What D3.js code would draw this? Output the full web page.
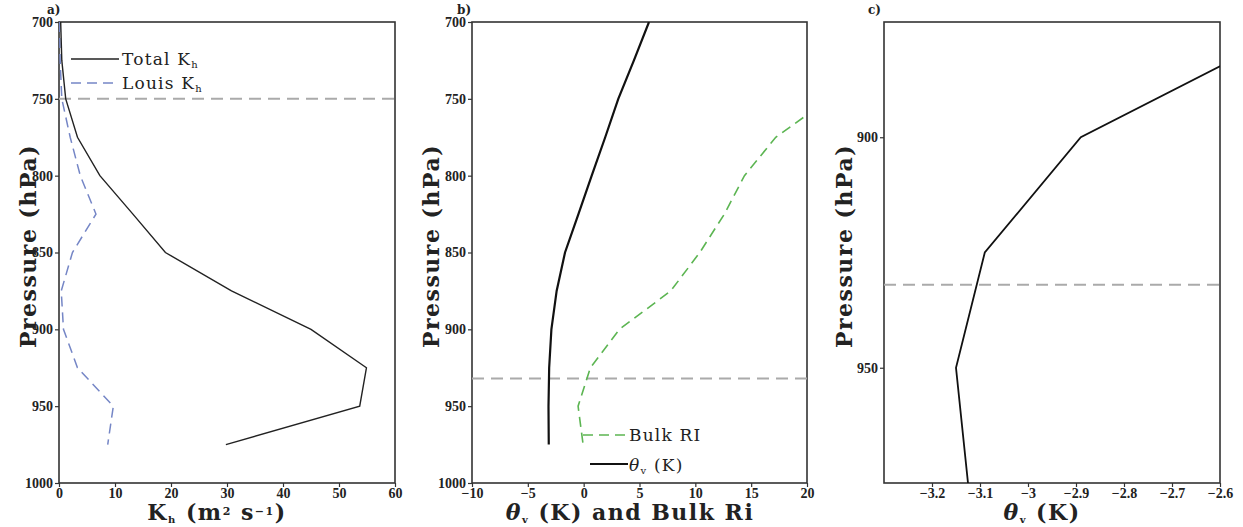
<!DOCTYPE html>
<html>
<head>
<meta charset="utf-8">
<script src="https://cdn.jsdelivr.net/npm/d3@7"></script>
<style>
  body { margin: 0; background: #fff; }
  .tick text { font-family: "Liberation Serif", serif; font-weight: bold; font-size: 14px; fill: #222; }
  .title { font-family: "DejaVu Serif", serif; font-weight: bold; font-size: 22px; fill: #222; letter-spacing: 1.5px; }
  .legend { font-family: "DejaVu Serif", serif; font-size: 17px; fill: #222; letter-spacing: 1.2px; }
  .tag { font-family: "DejaVu Serif", serif; font-weight: bold; font-size: 12px; fill: #222; }
</style>
</head>
<body>
<svg id="chart" width="1243" height="527"></svg>
<script>
// pressure levels (hPa)
const levels = [700, 725, 750, 775, 800, 825, 850, 875, 900, 925, 950, 975];
// panel a
const totalKh = [0.3, 0.5, 1.2, 3.3, 7.3, 13.2, 19.0, 30.8, 45.0, 54.9, 53.7, 29.8];
const louisKh = [0.1, 0.2, 0.5, 2.0, 3.8, 6.6, 2.4, 0.4, 0.8, 3.3, 9.7, 8.7];
// panel b / c
const thetaV = [5.85, 4.5, 3.1, 1.93, 0.72, -0.47, -1.67, -2.42, -2.89, -3.09, -3.15, -3.125];
const bulkRi = [null, null, 22.0, 17.2, 14.4, 12.6, 10.4, 7.8, 3.2, 0.6, -0.5, -0.05];
// boundary layer heights
const pblA = 750;
const pblB = 932;
// ticks
const pTicks = [700, 750, 800, 850, 900, 950, 1000];
const pTicksC = [900, 950];
const khTicks = [0, 10, 20, 30, 40, 50, 60];
const riTicks = [-10, -5, 0, 5, 10, 15, 20];
const thTicksC = [-3.2, -3.1, -3.0, -2.9, -2.8, -2.7, -2.6];

const svg = d3.select('#chart');
const plotTop = 22, plotBottom = 483;

function panel(id, left, right, xDomain, yDomain, xTicks, yTicks, tag, tagX) {
    const x = d3.scaleLinear().domain(xDomain).range([left, right]);
    const y = d3.scaleLinear().domain(yDomain).range([plotTop, plotBottom]);
    const g = svg.append('g');

    svg.append('clipPath').attr('id', 'clip-' + id)
        .append('rect').attr('x', left).attr('y', plotTop)
        .attr('width', right - left).attr('height', plotBottom - plotTop);

    const fmt = d => String(+d.toFixed(1)).replace('-', '\u2212');

    g.append('g').attr('transform', `translate(0,${plotBottom})`)
        .call(d3.axisBottom(x).tickValues(xTicks).tickSize(4).tickPadding(1).tickFormat(fmt))
        .call(a => a.select('.domain').remove());
    g.append('g').attr('transform', `translate(${left},0)`)
        .call(d3.axisLeft(y).tickValues(yTicks).tickSize(4).tickPadding(2).tickFormat(d3.format('d')))
        .call(a => a.select('.domain').remove());
    g.selectAll('.tick line').attr('stroke', '#333').attr('stroke-width', 1.2);

    g.append('rect').attr('x', left).attr('y', plotTop)
        .attr('width', right - left).attr('height', plotBottom - plotTop)
        .attr('fill', 'none').attr('stroke', '#333').attr('stroke-width', 1.6);

    svg.append('text').attr('class', 'tag').attr('x', tagX).attr('y', plotTop - 8).text(tag);

    const plot = g.append('g').attr('clip-path', `url(#clip-${id})`);
    return { x, y, g, plot };
}

function profile(p, values, color, width, dash) {
    const line = d3.line()
        .defined((d, i) => values[i] != null)
        .x((d, i) => p.x(values[i]))
        .y(d => p.y(d));
    p.plot.append('path').datum(levels)
        .attr('d', line).attr('fill', 'none')
        .attr('stroke', color).attr('stroke-width', width)
        .attr('stroke-dasharray', dash || null);
}

function pblLine(p, value) {
    const [x0, x1] = p.x.range();
    p.plot.append('line').attr('x1', x0).attr('x2', x1)
        .attr('y1', p.y(value)).attr('y2', p.y(value))
        .attr('stroke', '#aaa').attr('stroke-width', 2).attr('stroke-dasharray', '12,7');
}

function yTitle(cx) {
    svg.append('text').attr('class', 'title')
        .attr('transform', `translate(${cx},246) rotate(-90)`)
        .attr('text-anchor', 'middle').attr('dy', '0.35em')
        .text('Pressure (hPa)');
}

const sub = (t, s) => t.append('tspan').attr('font-size', '10px').attr('baseline-shift', '-25%').text(s);
const sup = (t, s) => t.append('tspan').attr('font-size', '11px').attr('baseline-shift', '45%').text(s);
const plain = (t, s) => t.append('tspan').text(s);
const theta = t => t.append('tspan').attr('font-style', 'italic').text('\u03b8');

// x titles sit just under the tick labels
const titleY = 520;

// ---- panel a
const pa = panel('a', 59, 395, [0, 60], [700, 1000], khTicks, pTicks, 'a)', 47);
pblLine(pa, pblA);
profile(pa, louisKh, '#7586c6', 1.5, '10,6');
profile(pa, totalKh, '#222', 1.4);
yTitle(28);
{
    const t = svg.append('text').attr('class', 'title').attr('x', 217).attr('y', titleY).attr('text-anchor', 'middle');
    plain(t, 'K'); sub(t, 'h'); plain(t, ' (m'); sup(t, '2'); plain(t, ' s'); sup(t, '\u22121'); plain(t, ')');
}
// legend a
const legA = [['Total', '#222', null, 59], ['Louis', '#7586c6', '10,6', 83]];
legA.forEach(([name, color, dash, ly]) => {
    svg.append('line').attr('x1', 71).attr('x2', 119).attr('y1', ly).attr('y2', ly)
        .attr('stroke', color).attr('stroke-width', 1.5).attr('stroke-dasharray', dash);
    const t = svg.append('text').attr('class', 'legend').attr('x', 122).attr('y', ly + 6);
    plain(t, name + ' K'); sub(t, 'h');
});

// ---- panel b
const pb = panel('b', 472, 807, [-10, 20], [700, 1000], riTicks, pTicks, 'b)', 457);
pblLine(pb, pblB);
profile(pb, bulkRi, '#5cb552', 1.6, '10,6');
profile(pb, thetaV, '#111', 2.2);
yTitle(431);
{
    const t = svg.append('text').attr('class', 'title').attr('x', 630).attr('y', titleY).attr('text-anchor', 'middle');
    theta(t); sub(t, 'v'); plain(t, ' (K) and Bulk Ri');
}
svg.append('line').attr('x1', 583).attr('x2', 628).attr('y1', 435).attr('y2', 435)
    .attr('stroke', '#5cb552').attr('stroke-width', 1.6).attr('stroke-dasharray', '10,6');
svg.append('text').attr('class', 'legend').attr('x', 629).attr('y', 441).text('Bulk RI');
svg.append('line').attr('x1', 590).attr('x2', 628).attr('y1', 464).attr('y2', 464)
    .attr('stroke', '#111').attr('stroke-width', 2.2);
{
    const t = svg.append('text').attr('class', 'legend').attr('x', 629).attr('y', 471);
    theta(t); sub(t, 'v'); plain(t, ' (K)');
}

// ---- panel c
const pc = panel('c', 884, 1220, [-3.3, -2.6], [875, 975], thTicksC, pTicksC, 'c)', 868);
pblLine(pc, pblB);
profile(pc, thetaV, '#111', 1.8);
yTitle(844);
{
    const t = svg.append('text').attr('class', 'title').attr('x', 1042).attr('y', titleY).attr('text-anchor', 'middle');
    theta(t); sub(t, 'v'); plain(t, ' (K)');
}
</script>
</body>
</html>
